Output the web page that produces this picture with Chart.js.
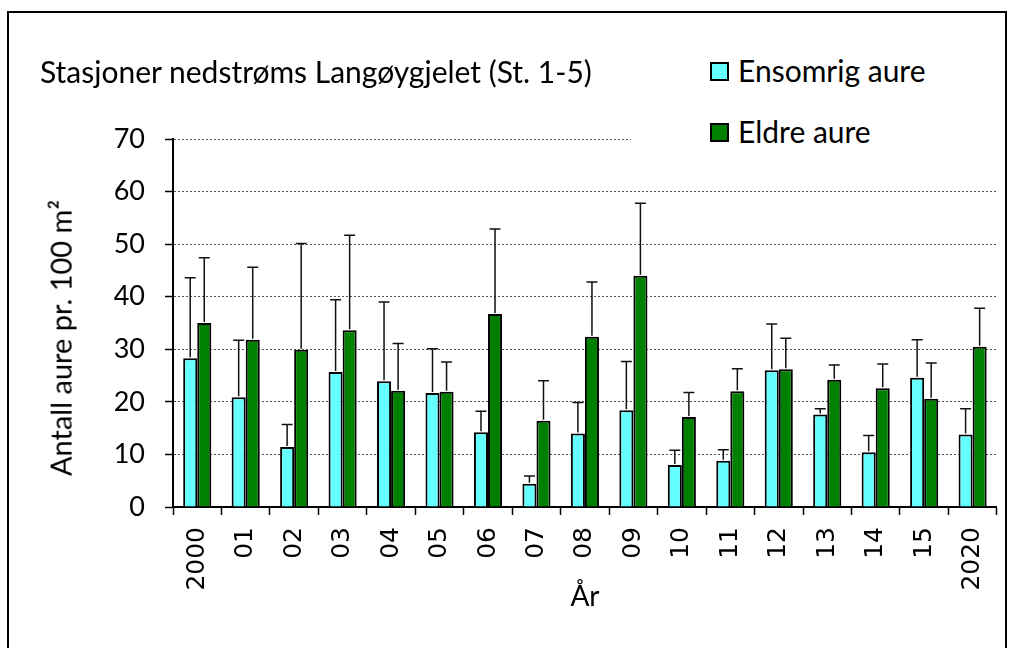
<!DOCTYPE html>
<html>
<head>
<meta charset="utf-8">
<script src="https://cdn.jsdelivr.net/npm/chart.js@4.4.1/dist/chart.umd.min.js"></script>
<style>
  html, body { margin: 0; padding: 0; background: #fff; overflow: hidden; }
  #wrap { position: relative; width: 1015px; height: 648px; }
  #frame { position: absolute; left: 7px; top: 11px; width: 1000px; height: 700px; border: 2px solid #000; box-sizing: border-box; }
  canvas { position: absolute; left: 0; top: 0; }
  #title { position: absolute; left: 40px; top: 53px; font: 30px Lato, sans-serif; line-height: 36px; color: #000; white-space: nowrap; }
  #ytitle { position: absolute; left: 61px; top: 338px; transform: translate(-50%, -50%) rotate(-90deg);
            font: 29px Lato, sans-serif; line-height: 34.8px; white-space: nowrap; color: #000; }
  #legend { position: absolute; left: 631px; top: 40px; width: 368px; height: 110px; background: #fff; font: 30px Lato, sans-serif; }
  #legend .it { position: absolute; left: 107px; white-space: nowrap; line-height: 30px; }
  #legend .sw { position: absolute; left: -28px; top: 7px; width: 15px; height: 15px; border: 2px solid #000; }
</style>
</head>
<body>
<div id="wrap">
  <div id="frame"></div>
  <canvas id="c" width="1015" height="648"></canvas>
  <div id="title">Stasjoner nedstrøms Langøygjelet (St. 1-5)</div>
  <div id="ytitle">Antall aure pr. 100 m²</div>
  <div id="legend">
    <div class="it" style="top:15px"><span class="sw" style="background:#66ffff"></span>Ensomrig aure</div>
    <div class="it" style="top:76px"><span class="sw" style="background:#008000"></span>Eldre aure</div>
  </div>
</div>
<script>
// aar: 2000 - 2020
const years = ['2000', '01', '02', '03', '04', '05', '06', '07', '08', '09', '10', '11', '12', '13', '14', '15', '2020'];

// tetthet (antall pr. 100 m2) og standardavvik
const ensomrig    = [28.3, 20.9, 11.4, 25.7, 23.9, 21.7, 14.2, 4.4, 14.0, 18.4, 8.0, 8.8, 26.0, 17.6, 10.4, 24.6, 13.8];
const ensomrigSd  = [15.3, 10.8, 4.3, 13.7, 15.1, 8.4, 4.0, 1.5, 5.9, 9.3, 2.8, 2.1, 8.8, 1.1, 3.2, 7.2, 4.9];
const eldre       = [35.0, 31.8, 29.9, 33.6, 22.1, 21.9, 36.7, 16.4, 32.4, 44.0, 17.1, 22.0, 26.2, 24.2, 22.6, 20.6, 30.5];
const eldreSd     = [12.4, 13.8, 20.2, 18.1, 9.0, 5.7, 16.2, 7.6, 10.4, 13.8, 4.7, 4.3, 5.9, 2.8, 4.6, 6.8, 7.3];

const yTicks = [0, 10, 20, 30, 40, 50, 60, 70];

// error bars (only upper part, like in Excel)
const errorBars = {
  id: 'errorBars',
  afterDatasetsDraw(chart) {
    const ctx = chart.ctx;
    const y = chart.scales.y;
    chart.data.datasets.forEach((ds, i) => {
      const meta = chart.getDatasetMeta(i);
      meta.data.forEach((bar, j) => {
        const top = y.getPixelForValue(ds.data[j] + ds.sd[j]);
        ctx.save();
        ctx.strokeStyle = '#111';
        ctx.lineWidth = 1.5;
        ctx.beginPath();
        ctx.moveTo(bar.x, bar.y - 1);
        ctx.lineTo(bar.x, top);
        ctx.moveTo(bar.x - 5.5, top);
        ctx.lineTo(bar.x + 5.5, top);
        ctx.stroke();
        ctx.restore();
      });
    });
  }
};

new Chart(document.getElementById('c'), {
  type: 'bar',
  data: {
    labels: years,
    datasets: [
      { label: 'Ensomrig aure', data: ensomrig, sd: ensomrigSd,
        backgroundColor: '#66ffff', borderColor: '#000', borderWidth: 2 },
      { label: 'Eldre aure', data: eldre, sd: eldreSd,
        backgroundColor: '#008000', borderColor: '#000', borderWidth: 2 },
    ],
  },
  options: {
    responsive: false,
    animation: false,
    devicePixelRatio: 1,
    layout: { padding: { top: 139, right: 13, left: 0, bottom: 0 } },
    datasets: { bar: { barPercentage: 1, categoryPercentage: 0.58 } },
    plugins: { legend: { display: false }, tooltip: { enabled: false } },
    scales: {
      x: {
        offset: true,
        afterFit: (s) => { s.height = 141; },
        grid: { offset: true, drawOnChartArea: false, tickLength: 8, color: '#000', tickWidth: 1.5 },
        border: { color: '#000', width: 2 },
        ticks: {
          autoSkip: false, minRotation: 90, maxRotation: 90, padding: 12,
          color: '#000', font: { family: 'DejaVu Sans', size: 25 },
        },
        title: { display: true, text: 'År', color: '#000', font: { family: 'Lato', size: 28 }, padding: { bottom: 34 } },
      },
      y: {
        min: 0, max: 70,
        afterFit: (s) => { s.width = 173; },
        afterBuildTicks: (s) => { s.ticks = yTicks.map(v => ({ value: v })); },
        grid: { color: '#555', lineWidth: 1, tickLength: 8, tickColor: '#000', tickWidth: 1.5 },
        border: { color: '#000', width: 2, dash: [2, 2] },
        ticks: { padding: 20, color: '#000', font: { family: 'Lato', size: 27 } },
      },
    },
  },
  plugins: [errorBars],
});
</script>
</body>
</html>
